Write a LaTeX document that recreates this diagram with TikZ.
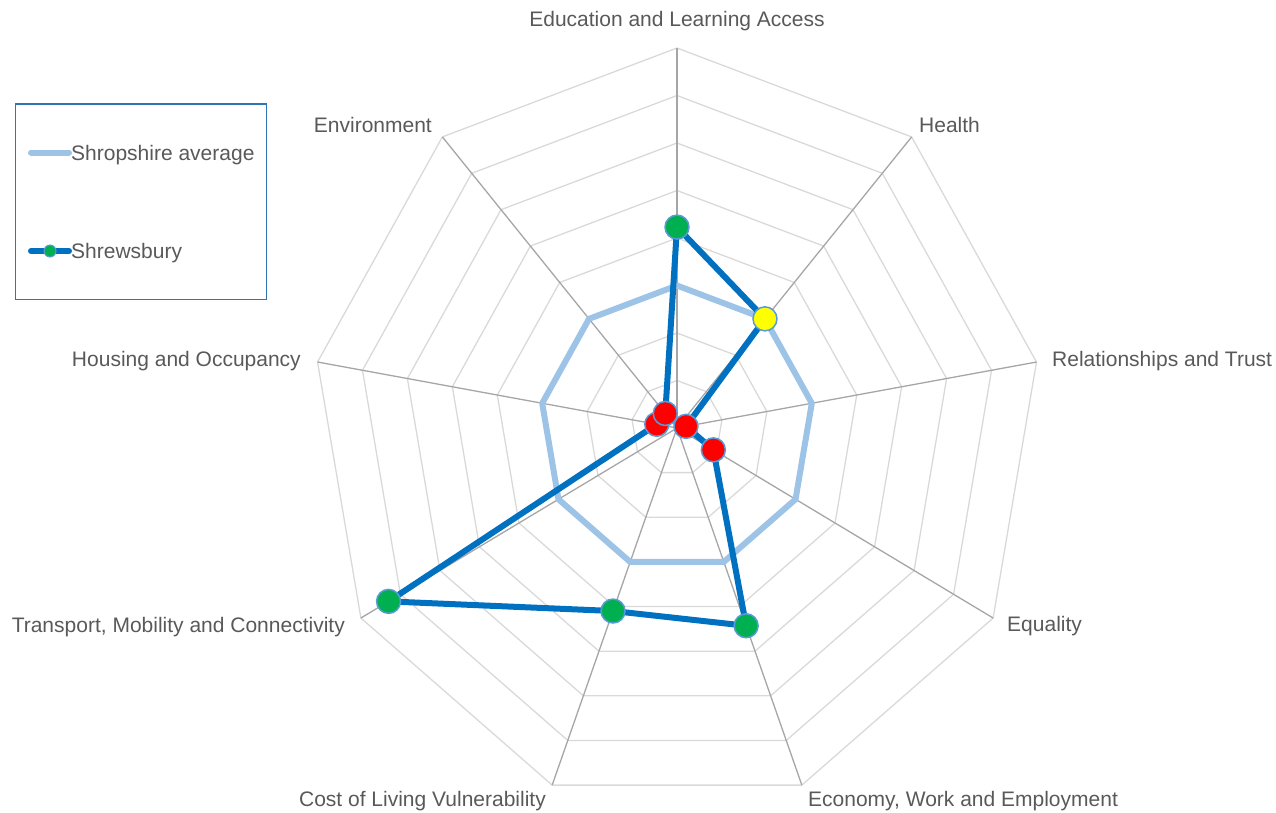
\documentclass[tikz,border=0pt]{standalone}
\usepackage{fontspec}
\setmainfont{Liberation Sans}
\definecolor{gridc}{HTML}{D9D9D9}
\definecolor{spokec}{HTML}{A6A6A6}
\definecolor{txtc}{HTML}{595959}
\definecolor{avgc}{HTML}{9DC3E6}
\definecolor{shrc}{HTML}{0070C0}
\definecolor{mgreen}{HTML}{00B050}
\definecolor{myellow}{HTML}{FFFF00}
\definecolor{mred}{HTML}{FF0000}
\definecolor{medge}{HTML}{5B9BD5}
\definecolor{legc}{HTML}{2E75B6}
\begin{document}
\begin{tikzpicture}[x=1pt,y=-1pt,
  ring/.style={draw=gridc,line width=1.3pt},
  spoke/.style={draw=spokec,line width=1.3pt},
  avgline/.style={draw=avgc,line width=6pt,line join=round,line cap=round},
  shrline/.style={draw=shrc,line width=6pt,line join=round,line cap=round},
  marker/.style={circle,draw=medge,line width=1.5pt,minimum size=24pt,inner sep=0pt},
  smallmarker/.style={circle,draw=medge,line width=1pt,fill=mgreen,minimum size=12pt,inner sep=0pt},
  lab/.style={text=txtc,font=\fontsize{21}{25}\selectfont,inner sep=0pt},
  legbox/.style={draw=legc,line width=1.4pt,inner sep=0pt}]
\useasboundingbox (0,0) rectangle (1276,812);
\def\cx{677}\def\cy{428}
\coordinate (c) at (\cx,\cy);
% outer vertices
\foreach \i in {0,...,8}{
  \coordinate (v\i) at ({\cx+365*cos(90-40*\i)},{\cy-380*sin(90-40*\i)});
}
% rings
\foreach \k in {1,...,8}{
  \draw[ring] ({\cx+45.625*\k*cos(90)},{\cy-47.5*\k*sin(90)})
    \foreach \i in {1,...,8}{ -- ({\cx+45.625*\k*cos(90-40*\i)},{\cy-47.5*\k*sin(90-40*\i)})} -- cycle;
}
% spokes
\foreach \i in {0,...,8}{ \draw[spoke] (c) -- (v\i); }
% data
\foreach \v [count=\i from 0] in {3,3,3,3,3,3,3,3,3}{
  \coordinate (a\i) at ({\cx+45.625*\v*cos(90-40*\i)},{\cy-47.5*\v*sin(90-40*\i)});
}
\foreach \v [count=\i from 0] in {4.23,3.0,0.2,0.92,4.43,4.1,7.3,0.45,0.4}{
  \coordinate (s\i) at ({\cx+45.625*\v*cos(90-40*\i)},{\cy-47.5*\v*sin(90-40*\i)});
}
\draw[avgline] (a0) -- (a1) -- (a2) -- (a3) -- (a4) -- (a5) -- (a6) -- (a7) -- (a8) -- cycle;
\draw[shrline] (s0) -- (s1) -- (s2) -- (s3) -- (s4) -- (s5) -- (s6) -- (s7) -- (s8) -- cycle;
\foreach \i/\c in {0/mgreen,1/myellow,2/mred,3/mred,4/mgreen,5/mgreen,6/mgreen,7/mred,8/mred}{
  \node[marker,fill=\c] (m\i) at (s\i) {};
}
% axis labels
\node[lab,anchor=base] (l0) at (677,26.7) {Education and Learning Access};
\node[lab,anchor=base west] (l1) at (919,132.5) {Health};
\node[lab,anchor=base west] (l2) at (1052,366) {Relationships and Trust};
\node[lab,anchor=base west] (l3) at (1007,631) {Equality};
\node[lab,anchor=base west] (l4) at (808,806) {Economy, Work and Employment};
\node[lab,anchor=base east] (l5) at (546,806) {Cost of Living Vulnerability};
\node[lab,anchor=base east] (l6) at (345,632) {Transport, Mobility and Connectivity};
\node[lab,anchor=base east] (l7) at (301,366) {Housing and Occupancy};
\node[lab,anchor=base east] (l8) at (432,132.5) {Environment};
% legend
\node[legbox,anchor=north west,minimum width=251pt,minimum height=195.7pt] (leg) at (15,103.3) {};
\coordinate (la1) at (31,152.5);
\coordinate (la2) at (69,152.5);
\draw[avgline] (la1) -- (la2);
\node[lab,anchor=base west] (lt1) at (71,160) {Shropshire average};
\coordinate (lb1) at (31,251);
\coordinate (lb2) at (69,251);
\draw[shrline] (lb1) -- (lb2);
\node[smallmarker] (lm) at (50,251) {};
\node[lab,anchor=base west] (lt2) at (71,258.3) {Shrewsbury};
\end{tikzpicture}
\end{document}
